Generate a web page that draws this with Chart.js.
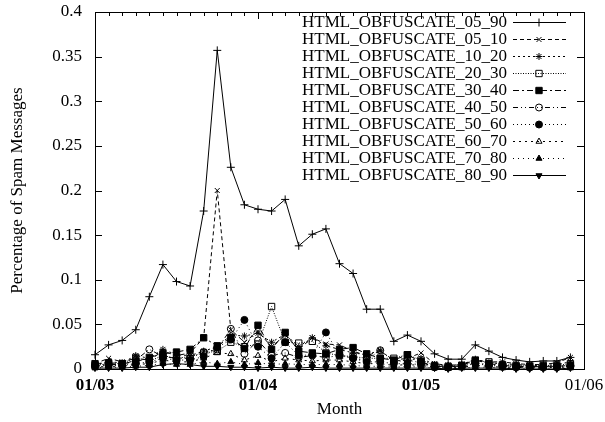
<!DOCTYPE html>
<html><head><meta charset="utf-8">
<script src="https://cdn.jsdelivr.net/npm/chart.js@4/dist/chart.umd.min.js"></script>
<style>html,body{margin:0;padding:0;background:#fff;}canvas{display:block;}</style>
</head><body>
<canvas id="c" width="605" height="422"></canvas>
<script>
const months = ['2003-01','2003-02','2003-03','2003-04','2003-05','2003-06','2003-07','2003-08','2003-09','2003-10','2003-11','2003-12',
  '2004-01','2004-02','2004-03','2004-04','2004-05','2004-06','2004-07','2004-08','2004-09','2004-10','2004-11','2004-12',
  '2005-01','2005-02','2005-03','2005-04','2005-05','2005-06','2005-07','2005-08','2005-09','2005-10','2005-11','2005-12'];
const xTickLabels = ['01/03','01/04','01/05','01/06'];
const yTickLabels = ['0','0.05','0.1','0.15','0.2','0.25','0.3','0.35','0.4'];
const seriesNames = ['HTML_OBFUSCATE_05_90','HTML_OBFUSCATE_05_10','HTML_OBFUSCATE_10_20','HTML_OBFUSCATE_20_30','HTML_OBFUSCATE_30_40',
  'HTML_OBFUSCATE_40_50','HTML_OBFUSCATE_50_60','HTML_OBFUSCATE_60_70','HTML_OBFUSCATE_70_80','HTML_OBFUSCATE_80_90'];

const s05_90 = [0.016,0.027,0.032,0.044,0.081,0.117,0.098,0.093,0.177,0.357,0.226,0.184,0.179,0.177,0.190,0.138,0.151,0.157,0.118,0.107,0.067,0.067,0.031,0.038,0.031,0.017,0.011,0.011,0.027,0.020,0.013,0.010,0.008,0.009,0.009,0.013];
const s05_10 = [0.006,0.012,0.008,0.012,0.010,0.020,0.015,0.018,0.035,0.200,0.044,0.030,0.042,0.025,0.038,0.022,0.035,0.028,0.027,0.020,0.015,0.020,0.010,0.012,0.018,0.006,0.004,0.005,0.010,0.008,0.008,0.006,0.005,0.005,0.007,0.013];
const s10_20 = [0.005,0.008,0.007,0.015,0.012,0.022,0.016,0.015,0.020,0.025,0.038,0.037,0.040,0.030,0.039,0.025,0.035,0.026,0.022,0.018,0.016,0.021,0.009,0.010,0.012,0.005,0.004,0.005,0.011,0.007,0.006,0.005,0.004,0.004,0.005,0.008];
const s20_30 = [0.004,0.006,0.006,0.013,0.009,0.015,0.012,0.014,0.018,0.020,0.030,0.025,0.028,0.070,0.030,0.029,0.031,0.018,0.015,0.014,0.012,0.012,0.012,0.016,0.010,0.004,0.003,0.004,0.009,0.008,0.005,0.004,0.003,0.004,0.004,0.006];
const s30_40 = [0.006,0.007,0.006,0.008,0.013,0.017,0.019,0.022,0.035,0.026,0.035,0.023,0.049,0.022,0.041,0.020,0.018,0.017,0.022,0.024,0.017,0.012,0.010,0.016,0.008,0.003,0.002,0.004,0.010,0.006,0.004,0.003,0.003,0.003,0.003,0.004];
const s40_50 = [0.004,0.005,0.005,0.010,0.022,0.014,0.012,0.012,0.019,0.022,0.045,0.017,0.032,0.015,0.018,0.013,0.015,0.013,0.015,0.012,0.010,0.021,0.008,0.010,0.007,0.003,0.003,0.003,0.007,0.005,0.004,0.003,0.002,0.003,0.003,0.004];
const s50_60 = [0.003,0.004,0.004,0.006,0.008,0.012,0.010,0.010,0.014,0.024,0.033,0.055,0.025,0.012,0.030,0.015,0.016,0.041,0.016,0.012,0.008,0.008,0.006,0.006,0.005,0.002,0.002,0.003,0.006,0.004,0.003,0.002,0.002,0.002,0.002,0.003];
const s60_70 = [0.002,0.003,0.003,0.005,0.006,0.010,0.008,0.008,0.012,0.018,0.017,0.010,0.015,0.008,0.012,0.010,0.009,0.010,0.010,0.008,0.006,0.006,0.004,0.005,0.004,0.002,0.001,0.002,0.004,0.003,0.002,0.002,0.001,0.001,0.002,0.002];
const s70_80 = [0.001,0.002,0.002,0.003,0.004,0.006,0.005,0.005,0.008,0.006,0.008,0.005,0.007,0.005,0.006,0.005,0.005,0.005,0.005,0.004,0.003,0.003,0.002,0.003,0.002,0.001,0.001,0.001,0.002,0.002,0.001,0.001,0.001,0.001,0.001,0.001];
const s80_90 = [0.001,0.001,0.001,0.002,0.002,0.005,0.006,0.005,0.003,0.003,0.002,0.002,0.001,0.002,0.001,0.001,0.002,0.001,0.001,0.001,0.001,0.001,0.001,0.001,0.001,0.001,0.000,0.001,0.001,0.001,0.001,0.000,0.000,0.000,0.000,0.001];

const allSeries = [s05_90,s05_10,s10_20,s20_30,s30_40,s40_50,s50_60,s60_70,s70_80,s80_90];
const styles = [
  {dash:[], ps:'cross', fill:'rgba(0,0,0,0)', r:4},
  {dash:[4,3], ps:'crossRot', fill:'rgba(0,0,0,0)', r:3.5},
  {dash:[2,3], ps:'star', fill:'rgba(0,0,0,0)', r:3.5},
  {dash:[1,1.5], ps:'rect', fill:'rgba(0,0,0,0)', r:4.5},
  {dash:[6,3,2,3], ps:'rect', fill:'#000', r:4.5},
  {dash:[5,3,1,3,1,3], ps:'circle', fill:'rgba(0,0,0,0)', r:3.5},
  {dash:[1,3], ps:'circle', fill:'#000', r:3.5},
  {dash:[2,4], ps:'triangle', fill:'rgba(0,0,0,0)', r:3.5},
  {dash:[1,4], ps:'triangle', fill:'#000', r:3.5},
  {dash:[], ps:'triangle', fill:'#000', r:3.5, rot:180}
];

const datasets = allSeries.map((arr,i)=>({
  label: seriesNames[i],
  data: arr.map((v,j)=>({x:j, y:v})),
  borderColor:'#000', borderWidth:1, borderDash: styles[i].dash,
  pointStyle: styles[i].ps, pointRadius: styles[i].r, pointRotation: styles[i].rot||0,
  pointBackgroundColor: styles[i].fill, pointBorderColor:'#000', pointBorderWidth:1,
  pointHoverRadius: styles[i].r,
  fill:false, tension:0, clip:false
}));

const SERIF = '"Liberation Serif", "DejaVu Serif", serif';
const FS = 17;

const framePlugin = {
  id:'frame',
  beforeDatasetsDraw(chart){
    const {ctx, chartArea:a, scales:{x,y}} = chart;
    ctx.save();
    ctx.strokeStyle='#000'; ctx.lineWidth=1; ctx.setLineDash([]);
    ctx.strokeRect(Math.round(a.left)+0.5, Math.round(a.top)+0.5, Math.round(a.right-a.left), Math.round(a.bottom-a.top));
    ctx.beginPath();
    for(let m=0;m<=36;m++){
      const px = Math.round(x.getPixelForValue(m))+0.5;
      const len = (m%12===0)?7:4;
      ctx.moveTo(px,a.bottom); ctx.lineTo(px,a.bottom-len);
      ctx.moveTo(px,a.top); ctx.lineTo(px,a.top+len);
    }
    for(let k=0;k<yTickLabels.length;k++){
      const py = Math.round(y.getPixelForValue(k*0.05))+0.5;
      ctx.moveTo(a.left,py); ctx.lineTo(a.left+7,py);
      ctx.moveTo(a.right,py); ctx.lineTo(a.right-7,py);
    }
    ctx.stroke();
    ctx.restore();
  }
};

const legendPlugin = {
  id:'gLegend',
  afterDraw(chart){
    const ctx = chart.ctx;
    chart.data.datasets.forEach((ds,i)=>{
      const yy = 22 + i*17;
      ctx.save();
      ctx.font = FS + 'px ' + SERIF;
      ctx.textAlign='right'; ctx.textBaseline='middle';
      ctx.fillStyle='#000';
      ctx.fillText(ds.label, 507, yy+1);
      ctx.strokeStyle='#000'; ctx.lineWidth=1; ctx.setLineDash(ds.borderDash||[]);
      ctx.beginPath(); ctx.moveTo(513,Math.round(yy)+0.5); ctx.lineTo(566,Math.round(yy)+0.5); ctx.stroke();
      ctx.setLineDash([]);
      ctx.fillStyle = ds.pointBackgroundColor;
      Chart.helpers.drawPoint(ctx, {pointStyle: ds.pointStyle, rotation: ds.pointRotation||0, radius: ds.pointRadius, borderWidth:1}, 539, Math.round(yy)+0.5);
      ctx.restore();
    });
  }
};

function zeroPad(s){ s.paddingTop=0; s.paddingBottom=0; s.paddingLeft=0; s.paddingRight=0; }

new Chart(document.getElementById('c'), {
  type:'line',
  data:{datasets},
  options:{
    responsive:false, animation:false, devicePixelRatio:1,
    layout:{padding:{left:0,right:21,top:12,bottom:0}},
    plugins:{legend:{display:false}, tooltip:{enabled:false}},
    scales:{
      x:{type:'linear', min:0, max:36,
        afterFit(s){ s.height = 53; zeroPad(s); },
        afterBuildTicks(s){ s.ticks = [0,12,24,36].map(v=>({value:v})); },
        grid:{display:false, drawTicks:false}, border:{display:false},
        ticks:{padding:6, color:'#000', maxRotation:0, autoSkip:false,
          font:(c)=>({family:SERIF, size:FS, weight: c.index<3?'bold':'normal'}),
          callback:(v,i)=>xTickLabels[i]},
        title:{display:true, text:'Month', color:'#000', font:{family:SERIF,size:FS}, padding:{top:0,bottom:2}}
      },
      y:{min:0, max:0.4,
        afterFit(s){ s.width = 95; zeroPad(s); },
        afterBuildTicks(s){ s.ticks = yTickLabels.map((t,k)=>({value:k*0.05})); },
        grid:{display:false, drawTicks:false}, border:{display:false},
        ticks:{padding:13, color:'#000', font:{family:SERIF,size:FS}, callback:(v,i)=>yTickLabels[i]},
        title:{display:true, text:'Percentage of Spam Messages', color:'#000', font:{family:SERIF,size:FS}, padding:{top:7,bottom:0}}
      }
    }
  },
  plugins:[framePlugin, legendPlugin]
});
</script>
</body></html>
